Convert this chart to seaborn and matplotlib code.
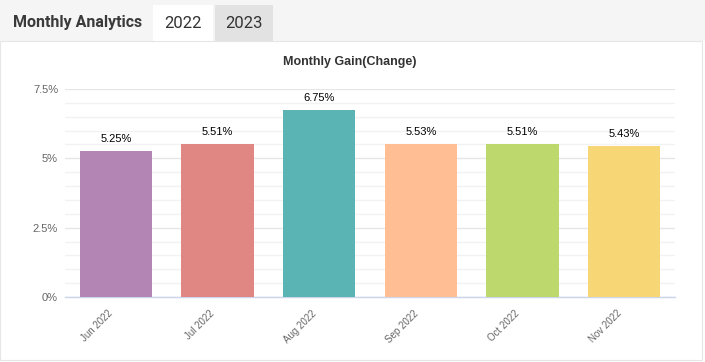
import matplotlib
matplotlib.use("Agg")
import matplotlib.pyplot as plt
import seaborn as sns
import pandas as pd
from matplotlib.patches import Rectangle
from matplotlib.ticker import MultipleLocator, FuncFormatter
from matplotlib.transforms import ScaledTranslation

months = ["Jun 2022", "Jul 2022", "Aug 2022", "Sep 2022", "Oct 2022", "Nov 2022"]
gains = [5.25, 5.51, 6.75, 5.53, 5.51, 5.43]
colors = ["#b385b4", "#e08683", "#5bb4b4", "#ffbe94", "#bdd96e", "#f6d675"]
title = "Monthly Gain(Change)"
header = "Monthly Analytics"
tabs = ["2022", "2023"]

sns.set_theme(style="white")
plt.rcParams["font.family"] = ["Liberation Sans", "DejaVu Sans"]

W, H = 705, 362
fig = plt.figure(figsize=(W / 100, H / 100), dpi=100)
fig.patch.set_facecolor("white")

# header band
fig.patches.append(Rectangle((0, (H - 41) / H), 1, 41 / H, transform=fig.transFigure,
                             facecolor="#f5f5f5", edgecolor="none", zorder=0))
fig.patches.append(Rectangle((153 / W, (H - 41) / H), 60 / W, 36 / H, transform=fig.transFigure,
                             facecolor="white", edgecolor="none", zorder=1))
fig.patches.append(Rectangle((215 / W, (H - 41) / H), 58 / W, 36 / H, transform=fig.transFigure,
                             facecolor="#e2e2e2", edgecolor="none", zorder=1))
# panel border lines
fig.patches.append(Rectangle((0, 2 / H), 702 / W, (H - 43) / H, transform=fig.transFigure,
                             facecolor="none", edgecolor="#e6e6e6", linewidth=0.8, zorder=1))

fig.text(13 / W, 1 - 22 / H, header, fontsize=11.5, fontweight="bold", color="#3a3a3a",
         family=["Roboto", "DejaVu Sans"], va="center", ha="left")
fig.text(183 / W, 1 - 23 / H, tabs[0], fontsize=12, color="#333333",
         family=["Roboto", "DejaVu Sans"], va="center", ha="center")
fig.text(244 / W, 1 - 23 / H, tabs[1], fontsize=12, color="#333333",
         family=["Roboto", "DejaVu Sans"], va="center", ha="center")

fig.text(350 / W, 1 - 62 / H, title, fontsize=9, fontweight="bold", color="#333333",
         va="center", ha="center")

ax = fig.add_axes([65 / W, 65 / H, 610 / W, 208 / H])
df = pd.DataFrame({"month": months, "gain": gains})
sns.barplot(data=df, x="month", y="gain", hue="month", palette=colors, legend=False,
            width=0.71, ax=ax, saturation=1, edgecolor="none", zorder=3)

ax.set_xlim(-0.5, len(months) - 0.5)
ax.set_ylim(0, 7.5)
ax.yaxis.set_major_locator(MultipleLocator(2.5))
ax.yaxis.set_minor_locator(MultipleLocator(0.5))
ax.yaxis.set_major_formatter(FuncFormatter(lambda v, p: f"{v:g}%"))
ax.grid(axis="y", which="major", color="#e6e6e6", linewidth=1, zorder=0)
ax.grid(axis="y", which="minor", color="#f2f2f2", linewidth=1, zorder=0)
ax.set_axisbelow(True)
for s in ["top", "right", "left"]:
    ax.spines[s].set_visible(False)
ax.spines["bottom"].set_color("#ccd6eb")
ax.spines["bottom"].set_linewidth(1)
ax.set_xlabel("")
ax.set_ylabel("")
ax.tick_params(axis="y", which="both", length=0, labelsize=8, labelcolor="#666666", pad=5)
ax.tick_params(axis="x", length=0, labelsize=7, labelcolor="#666666", pad=8)
shift = ScaledTranslation(-8 / 100, 0, fig.dpi_scale_trans)
for lab in ax.get_xticklabels():
    lab.set_rotation(45)
    lab.set_ha("right")
    lab.set_va("top")
    lab.set_rotation_mode("anchor")
    lab.set_transform(lab.get_transform() + shift)

for i, v in enumerate(gains):
    ax.annotate(f"{v:.2f}%", (i, v), xytext=(0, 5), textcoords="offset points",
                ha="center", va="bottom", fontsize=8, color="#000000")

fig.savefig("out.png", dpi=100, facecolor="white")
